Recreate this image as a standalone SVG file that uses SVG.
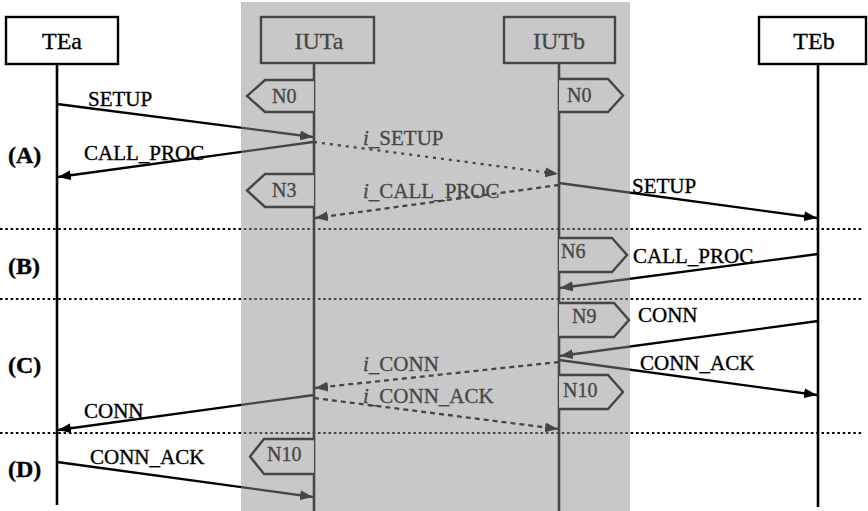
<svg xmlns="http://www.w3.org/2000/svg" width="868" height="511" viewBox="0 0 868 511">
<defs>
<marker id="ah" viewBox="0 0 13 10" refX="13" refY="5" markerWidth="13" markerHeight="10" markerUnits="userSpaceOnUse" orient="auto">
<path d="M0,0 L13,5 L0,10 z" fill="#000"/>
</marker>
</defs>
<style>
text{font-family:"Liberation Serif","Times New Roman",serif;fill:#000;stroke:#000;stroke-width:0.35}
.title{font-size:24px;text-anchor:middle}
.lbl{font-size:21px}
.sec{font-size:24px;font-weight:bold}
.st{font-size:20px}
.box{fill:#fff;stroke:#000;stroke-width:2.4}
.life{stroke:#000;stroke-width:2.6}
.msg{stroke:#000;stroke-width:2.3;fill:none;marker-end:url(#ah)}
.dot{stroke-dasharray:3,5}
.dash{stroke-dasharray:5,4}
.sep{stroke:#000;stroke-width:2.2;stroke-dasharray:2.5,2.8}
.state{fill:#fff;stroke:#000;stroke-width:2.4}
</style>
<rect width="868" height="511" fill="#fff"/>
<g id="separators">
<line class="sep" x1="0" y1="229" x2="862" y2="229"/>
<line class="sep" x1="0" y1="299" x2="862" y2="299"/>
<line class="sep" x1="0" y1="433" x2="862" y2="433"/>
</g>
<g id="sections">
<text class="sec" x="8" y="163">(A)</text>
<text class="sec" x="8" y="274">(B)</text>
<text class="sec" x="8" y="373">(C)</text>
<text class="sec" x="8" y="477">(D)</text>
</g>
<g id="TEa">
<rect class="box" x="6" y="17" width="112" height="47"/>
<text class="title" x="62" y="49">TEa</text>
<line class="life" x1="57" y1="64" x2="57" y2="505"/>
</g>
<g id="IUTa">
<rect class="box" x="261" y="17" width="113" height="46"/>
<text class="title" x="319" y="49">IUTa</text>
<line class="life" x1="314" y1="63" x2="314" y2="511"/>
</g>
<g id="IUTb">
<rect class="box" x="504" y="17" width="111" height="46"/>
<text class="title" x="559" y="49">IUTb</text>
<line class="life" x1="559" y1="63" x2="559" y2="511"/>
</g>
<g id="TEb">
<rect class="box" x="759" y="17" width="107" height="47"/>
<text class="title" x="814" y="49">TEb</text>
<line class="life" x1="818" y1="64" x2="818" y2="507"/>
</g>
<g id="states">
<g id="IUTa-N0"><path class="state" d="M314,80 H265 L247,96 L265,112 H314"/><text class="st" x="272" y="103">N0</text></g>
<g id="IUTa-N3"><path class="state" d="M314,174 H265 L247,190.5 L265,207 H314"/><text class="st" x="272" y="197">N3</text></g>
<g id="IUTa-N10"><path class="state" d="M314,439 H264 L250,456.5 L264,474 H314"/><text class="st" x="267" y="461">N10</text></g>
<g id="IUTb-N0"><path class="state" d="M559,79 H608 L623,95.5 L608,112 H559"/><text class="st" x="567" y="102">N0</text></g>
<g id="IUTb-N6"><path class="state" d="M559,238 H612 L627,255 L612,272 H559"/><text class="st" x="561" y="258">N6</text></g>
<g id="IUTb-N9"><path class="state" d="M559,303 H614 L629,320 L614,337 H559"/><text class="st" x="572" y="323">N9</text></g>
<g id="IUTb-N10"><path class="state" d="M559,375 H608 L623,392 L608,409 H559"/><text class="st" x="563" y="397">N10</text></g>
</g>
<g id="connectors">
<line class="msg" x1="57" y1="104" x2="313" y2="137"/>
<line class="msg" x1="313" y1="142" x2="58" y2="177"/>
<line class="msg dot" x1="314" y1="142" x2="558" y2="174"/>
<line class="msg dash" x1="559" y1="185" x2="315" y2="218"/>
<line class="msg" x1="559" y1="183" x2="817" y2="218"/>
<line class="msg" x1="818" y1="254" x2="560" y2="288"/>
<line class="msg" x1="818" y1="321" x2="560" y2="356"/>
<line class="msg" x1="559" y1="360" x2="817" y2="395"/>
<line class="msg dash" x1="559" y1="362" x2="315" y2="388"/>
<line class="msg" x1="314" y1="395" x2="58" y2="430"/>
<line class="msg dash" x1="314" y1="398" x2="558" y2="429"/>
<line class="msg" x1="57" y1="462" x2="313" y2="497"/>
</g>
<g id="labels">
<text class="lbl" x="88" y="106">SETUP</text>
<text class="lbl" x="84" y="160">CALL_PROC</text>
<text class="lbl" x="363" y="145"><tspan font-style="italic">i</tspan>_SETUP</text>
<text class="lbl" x="363" y="198"><tspan font-style="italic">i</tspan>_CALL_PROC</text>
<text class="lbl" x="632" y="193">SETUP</text>
<text class="lbl" x="633" y="263">CALL_PROC</text>
<text class="lbl" x="638" y="322">CONN</text>
<text class="lbl" x="640" y="370">CONN_ACK</text>
<text class="lbl" x="363" y="371"><tspan font-style="italic">i</tspan>_CONN</text>
<text class="lbl" x="363" y="403"><tspan font-style="italic">i</tspan>_CONN_ACK</text>
<text class="lbl" x="84" y="418">CONN</text>
<text class="lbl" x="90" y="464">CONN_ACK</text>
</g>
<rect id="shade" x="241" y="2" width="389" height="509" fill="#8f8f8f" fill-opacity="0.49"/>
</svg>
